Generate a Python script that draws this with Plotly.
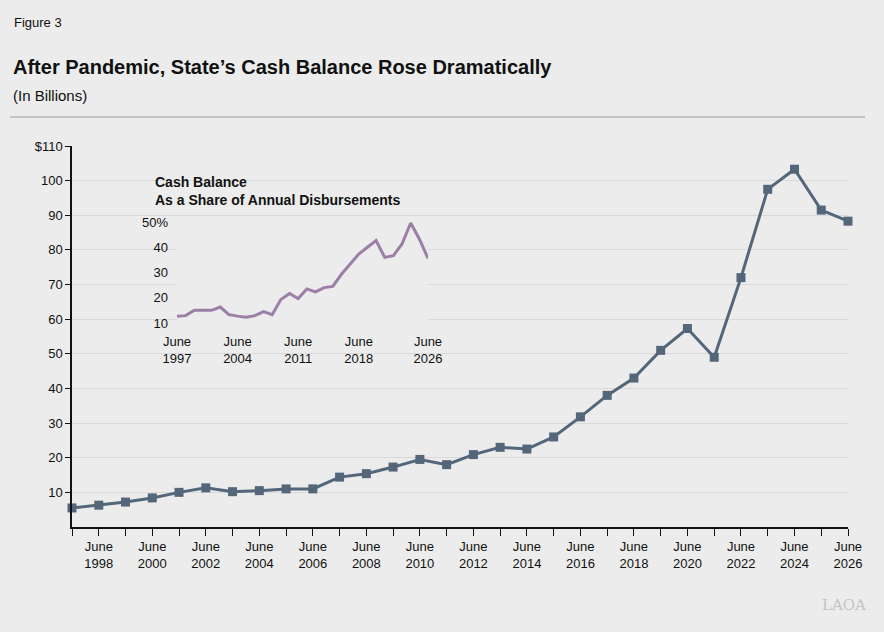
import plotly.graph_objects as go

# main series: cash balance, billions, June of each year
years = list(range(1997, 2027))
balance = [5.5, 6.3, 7.2, 8.4, 10.0, 11.3, 10.2, 10.5, 11.0, 11.0,
           14.4, 15.4, 17.3, 19.5, 18.0, 20.9, 23.0, 22.5, 26.0, 31.8,
           38.0, 43.0, 51.0, 57.3, 49.0, 72.0, 97.5, 103.3, 91.5, 88.3]
# inset: share of annual disbursements, percent
share = [12.7, 12.9, 15.0, 14.9, 15.0, 16.3, 13.3, 12.7, 12.3, 12.9,
         14.5, 13.3, 19.3, 21.7, 19.7, 23.5, 22.3, 24.0, 24.5, 29.3,
         33.3, 37.3, 40.0, 42.7, 36.0, 36.7, 41.3, 49.6, 43.3, 35.6]

main_ticks = [10, 20, 30, 40, 50, 60, 70, 80, 90, 100, 110]
main_labels = ["10", "20", "30", "40", "50", "60", "70", "80", "90", "100", "$110"]
inset_years = [1997, 2004, 2011, 2018, 2026]
inset_ticks = [10, 20, 30, 40, 50]
inset_labels = ["10", "20", "30", "40", "50%"]

font = "Liberation Sans, Arial, sans-serif"


def py(p):
    # pixel row -> paper y
    return (527 - p) / 381


def px(p):
    # pixel column -> paper x
    return (p - 72) / 776


fig = go.Figure()
fig.add_trace(go.Scatter(
    x=years, y=balance, mode="lines+markers",
    line=dict(color="#54677a", width=3),
    marker=dict(symbol="square", size=9, color="#54677a"),
    cliponaxis=False, showlegend=False))
fig.add_trace(go.Scatter(
    x=years, y=share, mode="lines", xaxis="x2", yaxis="y2",
    line=dict(color="#9c7fa6", width=3), showlegend=False))

fig.update_layout(
    width=884, height=632,
    paper_bgcolor="#ebeceb", plot_bgcolor="#ebeceb",
    margin=dict(l=72, r=36, t=146, b=105),
    font=dict(family=font, size=13, color="#111"),
    xaxis=dict(range=[1997, 2026], tickmode="array",
               tickvals=years,
               ticktext=["June<br>%d" % y if y % 2 == 0 else "" for y in years],
               ticks="outside", ticklen=7, tickcolor="#111",
               showline=True, linecolor="#111", linewidth=1.5,
               showgrid=False, zeroline=False),
    yaxis=dict(range=[0, 110], tickmode="array", tickvals=main_ticks,
               ticktext=main_labels, ticks="outside", ticklen=5,
               tickcolor="#111", showline=True, linecolor="#111",
               linewidth=1.5, gridcolor="#d8d9d8", zeroline=False),
    xaxis2=dict(domain=[px(177), px(428)], anchor="y2", range=[1997, 2026],
                tickmode="array", tickvals=inset_years,
                ticktext=["June<br>%d" % y for y in inset_years],
                showgrid=False, zeroline=False, showline=False, ticks="",
                ticklabelstandoff=4),
    yaxis2=dict(domain=[py(328), py(217)], anchor="x2", range=[8, 52],
                tickmode="array", tickvals=inset_ticks,
                ticktext=inset_labels, showgrid=False, zeroline=False,
                showline=False, ticks="", ticklabelstandoff=8),
    shapes=[dict(type="line", xref="paper", yref="paper",
                 x0=px(10), x1=px(865), y0=py(117), y1=py(117),
                 line=dict(color="#9a9a9a", width=1))],
)

fig.add_annotation(text="Figure 3", xref="paper", yref="paper", x=px(12), y=py(22),
                   xanchor="left", yanchor="middle", showarrow=False,
                   font=dict(size=13))
fig.add_annotation(text="<b>After Pandemic, State\u2019s Cash Balance Rose Dramatically</b>",
                   xref="paper", yref="paper", x=px(11), y=py(67),
                   xanchor="left", yanchor="middle", showarrow=False,
                   font=dict(size=20))
fig.add_annotation(text="(In Billions)", xref="paper", yref="paper",
                   x=px(11), y=py(95), xanchor="left", yanchor="middle",
                   showarrow=False, font=dict(size=15))
fig.add_annotation(text="<b>Cash Balance<br>As a Share of Annual Disbursements</b>",
                   xref="paper", yref="paper", x=px(153), y=py(172),
                   xanchor="left", yanchor="top", align="left", showarrow=False,
                   font=dict(size=14))
fig.add_annotation(text="LAOA", xref="paper", yref="paper", x=px(868), y=py(605),
                   xanchor="right", yanchor="middle", showarrow=False,
                   font=dict(size=15, color="#c4c5c4", family="DejaVu Serif"))

fig.write_html("out.html", config={"displayModeBar": False},
               post_script="document.body.style.margin='0';")
